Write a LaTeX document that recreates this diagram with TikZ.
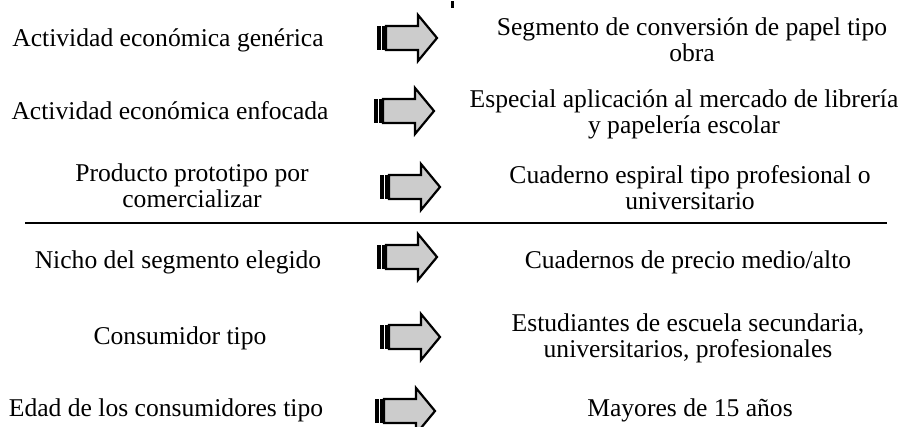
\documentclass[tikz,border=0pt]{standalone}
\usepackage{fontspec}
\setmainfont{Liberation Serif}
\begin{document}
\begin{tikzpicture}[x=0.5pt,y=-0.5pt,
  lbl/.style={inner sep=0pt,align=center,font=\fontsize{12.8}{13}\selectfont},
  barrow/.pic={
    \fill[black] (0,-12) rectangle (4,12);
    \fill[black] (5,-12) rectangle (7.5,12);
    \draw[line width=1.1pt,fill=gray!40,line join=miter]
      (9,-12) -- (41,-12) -- (41,-23) -- (60,0) -- (41,23) -- (41,12) -- (9,12) -- cycle;
  }]
\useasboundingbox (0,0) rectangle (908,427);
% arrows
\path (377,38) pic {barrow};
\path (374,111) pic {barrow};
\path (380,187) pic {barrow};
\path (377,257) pic {barrow};
\path (380,337) pic {barrow};
\path (375,411) pic {barrow};
% small top tick
\fill[black] (451,1) rectangle (453.5,8);
% left column
\node[lbl] (l1) at (168,40) {Actividad económica genérica};
\node[lbl] (l2) at (170,111) {Actividad económica enfocada};
\node[lbl] (l3) at (192,186) {Producto prototipo por\\comercializar};
\node[lbl] (l4) at (178,262) {Nicho del segmento elegido};
\node[lbl] (l5) at (180,338) {Consumidor tipo};
\node[lbl] (l6) at (166,410) {Edad de los consumidores tipo};
% right column
\node[lbl] (r1) at (692,40) {Segmento de conversión de papel tipo\\obra};
\node[lbl] (r2) at (684,114) {Especial aplicación al mercado de librería\\y papelería escolar};
\node[lbl] (r3) at (690,188) {Cuaderno espiral tipo profesional o\\universitario};
\node[lbl] (r4) at (688,262) {Cuadernos de precio medio/alto};
\node[lbl] (r5) at (688,338) {Estudiantes de escuela secundaria,\\universitarios, profesionales};
\node[lbl] (r6) at (690,410) {Mayores de 15 años};
% separator
\coordinate (sepL) at (25,223);
\coordinate (sepR) at (887,223);
\draw[line width=0.9pt] (sepL) -- (sepR);
\end{tikzpicture}
\end{document}
